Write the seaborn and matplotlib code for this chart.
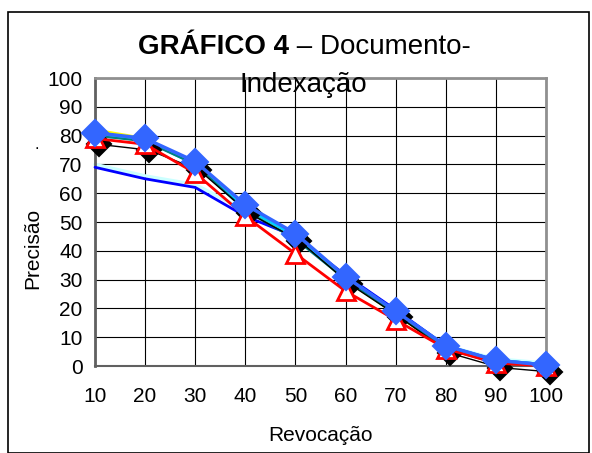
import matplotlib
matplotlib.use("Agg")
import matplotlib.pyplot as plt
import matplotlib.transforms as mtransforms
from matplotlib.patches import Rectangle
import seaborn as sns
import pandas as pd

sns.set_theme(style="white")
plt.rcParams['font.family'] = ['Liberation Sans', 'DejaVu Sans']
plt.rcParams['text.color'] = 'black'

recall = [10, 20, 30, 40, 50, 60, 70, 80, 90, 100]
light_cyan_low = [70, 66, 63, 54, 45, 31, 19, 7, 2.5, 1]
dark_blue_low = [69, 65, 62, 52, 45, 31.5, 19.5, 7, 2, 0.5]
yellow = [82, 79, 70, 55, 45, 30, 18, 6, 1.5, 0.5]
cyan = [80, 78.5, 70, 55, 45, 31, 19, 7, 2, 0.5]
teal = [80, 78, 70, 54, 44, 30, 18, 6, 1, 0]
black_diamond = [78, 76, 69, 54, 44.5, 29.5, 18, 5.5, 0.5, -1]
red_triangle = [79, 77, 67, 52, 39, 26, 16, 6, 1, 0]
blue_diamond = [81, 79, 71, 56, 46, 31, 19, 7, 2, 0.3]

xticks = [10, 20, 30, 40, 50, 60, 70, 80, 90, 100]
yticks = [0, 10, 20, 30, 40, 50, 60, 70, 80, 90, 100]

fig = plt.figure(figsize=(5.92, 4.53), dpi=100)
ax = fig.add_axes([95/592, 1-366/453, (546-95)/592, (366-78)/453])

def draw(vals, color, lw=2, marker=None, ms=None, mfc=None, mec=None, mew=1.5, z=2, transform=None):
    df = pd.DataFrame({"x": recall, "y": vals})
    kw = {}
    if transform is not None:
        kw["transform"] = transform
    sns.lineplot(data=df, x="x", y="y", ax=ax, color=color, linewidth=lw,
                 marker=marker, markersize=ms if ms else 6,
                 markerfacecolor=mfc if mfc else color,
                 markeredgecolor=mec if mec else color, markeredgewidth=mew,
                 zorder=z, clip_on=False, estimator=None, **kw)

draw(light_cyan_low, "#CCFFFF", lw=2.5, z=2)
draw(dark_blue_low, "#0000FF", lw=2, z=3)
draw(yellow, "#FFFF00", lw=2, z=3)
draw(cyan, "#00CCFF", lw=2, z=3)
draw(teal, "#008080", lw=1.5, z=3)
shadow = mtransforms.offset_copy(ax.transData, fig=fig, x=4, y=-3, units="dots")
draw(black_diamond, "#000000", lw=1, marker="D", ms=12, z=4, transform=shadow)
draw(red_triangle, "#FF0000", lw=2, marker="^", ms=13, mfc="white", mec="#FF0000", mew=2, z=5)
draw(blue_diamond, "#3366FF", lw=2.5, marker="D", ms=13, mec="#3366FF", z=6)

ax.set_xlim(10, 100)
ax.set_ylim(0, 100)
ax.set_xticks(xticks)
ax.set_yticks(yticks)
ax.set_xticklabels([str(v) for v in xticks], fontsize=15, color="black")
ax.set_yticklabels([str(v) for v in yticks], fontsize=15, color="black")
ax.grid(True, color="black", linewidth=0.8)
ax.set_axisbelow(True)
ax.tick_params(axis="x", direction="out", length=6, width=1, color="#404040", pad=9)
ax.tick_params(axis="y", direction="out", length=6, width=1, color="#404040", pad=3)
for s in ["top", "right"]:
    ax.spines[s].set_color("#909090")
    ax.spines[s].set_linewidth(2)
ax.spines["left"].set_color("#606060")
ax.spines["left"].set_linewidth(2)
ax.spines["bottom"].set_color("#606060")
ax.spines["bottom"].set_linewidth(1.5)
ax.set_xlabel("Revocação", fontsize=15, color="black")
ax.set_ylabel("Precisão", fontsize=15, color="black")
ax.xaxis.set_label_coords(0.5, (366-426)/288)
ax.yaxis.set_label_coords((42-95)/451, (366-248)/288)
legend = ax.get_legend()
if legend:
    legend.remove()

fig.text(289/592, 1-47/453, "GRÁFICO 4", fontsize=20, fontweight="bold", ha="right", va="center")
fig.text(289/592, 1-47/453, " – Documento-", fontsize=20, ha="left", va="center")
fig.text(303/592, 1-85/453, "Indexação", fontsize=20, ha="center", va="center")
fig.text(37/592, 1-144/453, ".", fontsize=12, ha="center", va="center")

fig.patches.append(Rectangle((8/592, 0), (589-8)/592, 1-12/453, transform=fig.transFigure,
                             fill=False, edgecolor="black", linewidth=1.2))

fig.savefig("out.png", dpi=100)
